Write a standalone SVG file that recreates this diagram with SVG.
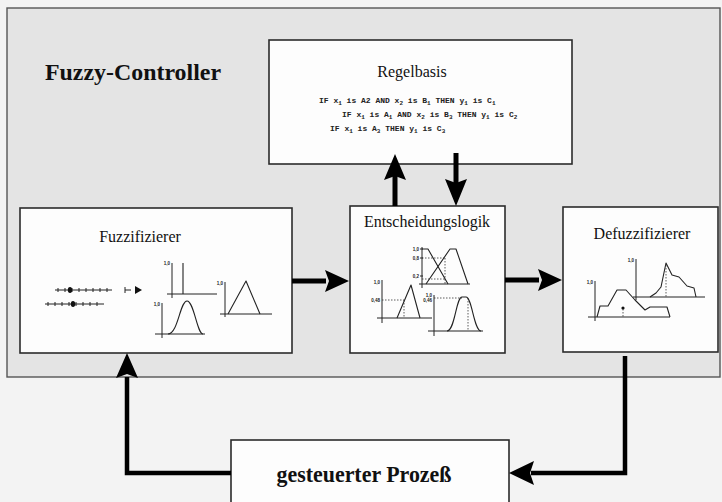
<svg xmlns="http://www.w3.org/2000/svg" width="722" height="502" viewBox="0 0 722 502">
  <style>
    .box { fill: #fdfdfd; stroke: #2b2b2b; stroke-width: 1.6; }
    .title { font-family: "Liberation Serif", "Times New Roman", serif; font-size: 16px; fill: #111; text-anchor: middle; }
    .big { font-family: "Liberation Serif", "Times New Roman", serif; font-weight: bold; fill: #111; }
    .rule { font-family: "Liberation Mono", "Courier New", monospace; font-size: 8px; font-weight: bold; fill: #222; }
    .sub { font-size: 6px; }
    .ax { stroke: #222; stroke-width: 1; fill: none; }
    .mf { stroke: #222; stroke-width: 1.1; fill: none; stroke-linejoin: round; }
    .dash { stroke: #333; stroke-width: 0.8; fill: none; stroke-dasharray: 1.5 1.5; }
    .lbl { font-family: "Liberation Sans", Arial, sans-serif; font-size: 4.5px; font-weight: bold; fill: #222; text-anchor: end; }
    .conn { stroke: #000; fill: none; }
    .head { fill: #000; }
  </style>

  <!-- background and controller frame -->
  <rect x="0" y="0" width="722" height="502" fill="#f3f3f3"/>
  <rect x="7" y="8" width="713" height="369" fill="#e4e4e4" stroke="#555" stroke-width="1.4"/>
  <text class="big" x="45" y="80" font-size="24" textLength="176" lengthAdjust="spacingAndGlyphs">Fuzzy-Controller</text>

  <!-- rule base -->
  <g id="regelbasis">
    <rect class="box" x="269" y="40" width="303" height="124"/>
    <text class="title" x="412" y="77">Regelbasis</text>
    <text class="rule" x="319" y="103">IF x<tspan class="sub" dy="1.5">1</tspan><tspan dy="-1.5"> is A2 AND x</tspan><tspan class="sub" dy="1.5">2</tspan><tspan dy="-1.5"> is B</tspan><tspan class="sub" dy="1.5">1</tspan><tspan dy="-1.5"> THEN y</tspan><tspan class="sub" dy="1.5">1</tspan><tspan dy="-1.5"> is C</tspan><tspan class="sub" dy="1.5">1</tspan></text>
    <text class="rule" x="342" y="117">IF x<tspan class="sub" dy="1.5">1</tspan><tspan dy="-1.5"> is A</tspan><tspan class="sub" dy="1.5">1</tspan><tspan dy="-1.5"> AND x</tspan><tspan class="sub" dy="1.5">2</tspan><tspan dy="-1.5"> is B</tspan><tspan class="sub" dy="1.5">3</tspan><tspan dy="-1.5"> THEN y</tspan><tspan class="sub" dy="1.5">1</tspan><tspan dy="-1.5"> is C</tspan><tspan class="sub" dy="1.5">2</tspan></text>
    <text class="rule" x="330" y="131">IF x<tspan class="sub" dy="1.5">1</tspan><tspan dy="-1.5"> is A</tspan><tspan class="sub" dy="1.5">3</tspan><tspan dy="-1.5"> THEN y</tspan><tspan class="sub" dy="1.5">1</tspan><tspan dy="-1.5"> is C</tspan><tspan class="sub" dy="1.5">3</tspan></text>
  </g>

  <!-- fuzzifier -->
  <g id="fuzzifizierer">
    <rect class="box" x="20" y="208" width="272" height="145"/>
    <text class="title" x="140" y="242">Fuzzifizierer</text>
    <!-- crisp input scales -->
    <line class="ax" x1="55" y1="290" x2="112" y2="290"/>
    <path class="ax" d="M58,288v4M65,288v4M72,288v4M79,288v4M86,288v4M93,288v4M100,288v4M107,288v4"/>
    <ellipse cx="70" cy="290" rx="2.2" ry="3" fill="#111"/>
    <line class="ax" x1="45" y1="304" x2="104" y2="304"/>
    <path class="ax" d="M48,302v4M55,302v4M62,302v4M69,302v4M76,302v4M83,302v4M90,302v4M97,302v4"/>
    <ellipse cx="73" cy="304" rx="2.2" ry="3" fill="#111"/>
    <!-- mapping symbol -->
    <path class="ax" stroke-width="1.4" d="M125,287v6M125,290h6"/>
    <polygon points="135,286 142,290 135,294" fill="#111"/>
    <!-- singleton -->
    <path class="ax" d="M172,263V298M167,294H217"/>
    <text class="lbl" x="170" y="265">1,0</text>
    <line class="mf" x1="183" y1="263" x2="183" y2="294"/>
    <!-- bell -->
    <path class="ax" d="M162,303V338M155,334H205"/>
    <text class="lbl" x="160" y="306">1,0</text>
    <path class="mf" d="M168,334C178,334 180,301 187,301C194,301 197,334 203,334"/>
    <!-- triangle -->
    <path class="ax" d="M225,282V317M220,314H272"/>
    <text class="lbl" x="223" y="285">1,0</text>
    <polyline class="mf" points="228,314 246,281 260,314"/>
  </g>

  <!-- inference -->
  <g id="entscheidungslogik">
    <rect class="box" x="350" y="206" width="155" height="147"/>
    <text class="title" x="427" y="227" font-size="15">Entscheidungslogik</text>
    <!-- two overlapping sets -->
    <path class="ax" d="M422,247V288M419,284H470M420,249h3M420,258h3M420,276h3"/>
    <text class="lbl" x="419" y="250.5">1,0</text>
    <text class="lbl" x="419" y="259.5">0,8</text>
    <text class="lbl" x="419" y="277.5">0,2</text>
    <polyline class="mf" points="422,249 428,249 448,284"/>
    <polyline class="mf" points="426,284 450,249 456,249 468,284"/>
    <path class="dash" d="M422,258H445M422,279H445M445,258V284"/>
    <!-- clipped triangle -->
    <path class="ax" d="M382,280V323M377,318H432"/>
    <text class="lbl" x="380" y="283.5">1,0</text>
    <text class="lbl" x="380" y="301.5">0,48</text>
    <polyline class="mf" points="397,318 411,285 420,318"/>
    <path class="dash" d="M382,300H405M404,300V318"/>
    <!-- clipped bell -->
    <path class="ax" d="M434,295V336M428,331H483"/>
    <text class="lbl" x="432" y="296.5">1,0</text>
    <text class="lbl" x="432" y="301.5">0,46</text>
    <path class="mf" d="M447,331C455,331 456,297 462,297L466,297C472,297 474,331 481,331"/>
    <path class="dash" d="M434,298H462M468,298V331"/>
  </g>

  <!-- defuzzifier -->
  <g id="defuzzifizierer">
    <rect class="box" x="563" y="207" width="155" height="145"/>
    <text class="title" x="642" y="239" font-size="15">Defuzzifizierer</text>
    <path class="ax" d="M636,259V300M633,297H705"/>
    <text class="lbl" x="634" y="261.5">1,0</text>
    <polyline class="mf" points="650,297 656,293 661,287 666,263 672,275 679,277 687,286 694,288 696,297"/>
    <line class="dash" x1="666" y1="265" x2="666" y2="297"/>
    <path class="ax" d="M595,281V321M588,317H670"/>
    <text class="lbl" x="593" y="283.5">1,0</text>
    <polyline class="mf" points="597,317 600,306 608,306 617,290 626,290 635,300 645,310 650,307 667,307 670,317"/>
    <line class="dash" x1="623" y1="309" x2="623" y2="317"/>
    <circle cx="623" cy="308" r="1.6" fill="#111"/>
  </g>

  <!-- controlled plant -->
  <g id="prozess">
    <rect class="box" x="231" y="440" width="278" height="80"/>
    <text class="big" x="364" y="482" font-size="24" text-anchor="middle" textLength="175" lengthAdjust="spacingAndGlyphs">gesteuerter Prozeß</text>
  </g>

  <!-- signal flow -->
  <g id="connectors">
    <line class="conn" stroke-width="5" x1="292" y1="281" x2="326" y2="281"/>
    <polygon class="head" points="325,270 349,281 325,292 329,281"/>
    <line class="conn" stroke-width="5" x1="505" y1="280" x2="539" y2="280"/>
    <polygon class="head" points="538,269 562,280 538,291 542,280"/>
    <line class="conn" stroke-width="5" x1="395" y1="206" x2="395" y2="176"/>
    <polygon class="head" points="384,180 395,154 406,180 395,176"/>
    <line class="conn" stroke-width="5" x1="456" y1="153" x2="456" y2="183"/>
    <polygon class="head" points="445,179 456,206 467,179 456,183"/>
    <polyline class="conn" stroke-width="4.5" points="625,356 625,473 531,473"/>
    <polygon class="head" points="534,461 509,473 534,485 530,473"/>
    <polyline class="conn" stroke-width="4.5" points="231,473 127,473 127,377"/>
    <polygon class="head" points="116,378 127,353 138,378 127,374"/>
  </g>
</svg>
